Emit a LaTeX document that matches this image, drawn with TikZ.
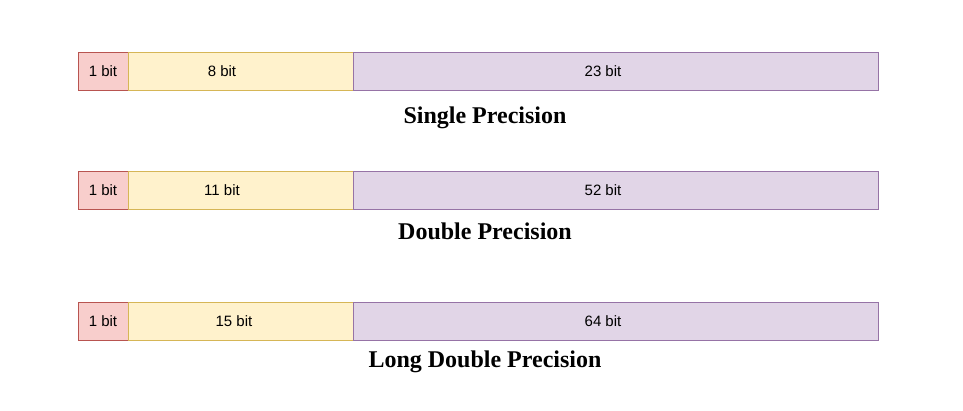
\documentclass[tikz,border=0pt]{standalone}
\usepackage{fontspec}
\setmainfont{Liberation Serif}
\newfontfamily\boxfont{Liberation Sans}
\definecolor{signfill}{HTML}{F8CECC}
\definecolor{signdraw}{HTML}{B85450}
\definecolor{expfill}{HTML}{FFF2CC}
\definecolor{expdraw}{HTML}{D6B656}
\definecolor{mantfill}{HTML}{E1D5E7}
\definecolor{mantdraw}{HTML}{9673A6}
\begin{document}
\begin{tikzpicture}[
        x                       = 1pt,
        y                       = -1pt,
        field/.style            = {rectangle, inner sep=0pt, minimum height=38pt, line width=1pt},
        signbox/.style          = {field, fill=signfill, draw=signdraw, minimum width=50pt},
        expbox/.style           = {field, fill=expfill, draw=expdraw, minimum width=225pt},
        mantbox/.style          = {field, fill=mantfill, draw=mantdraw, minimum width=525pt},
        bits/.style             = {font=\boxfont\fontsize{15pt}{17pt}\selectfont},
        title/.style            = {font=\bfseries\fontsize{24pt}{26pt}\selectfont},
      ]
        \useasboundingbox (0,0) rectangle (963,410);
        % single
        \node[signbox] (s1) at (103,71) {};
        \node[expbox]  (e1) at (240.5,71) {};
        \node[mantbox] (m1) at (615.5,71) {};
        \node[bits] at (s1) {1 bit};
        \node[bits] at (222,71) {8 bit};
        \node[bits] at (603,71) {23 bit};
        \node[title] (t1) at (485,118) {Single Precision};
        % double
        \node[signbox] (s2) at (103,190) {};
        \node[expbox]  (e2) at (240.5,190) {};
        \node[mantbox] (m2) at (615.5,190) {};
        \node[bits] at (s2) {1 bit};
        \node[bits] at (222,190) {11 bit};
        \node[bits] at (603,190) {52 bit};
        \node[title] (t2) at (485,231) {Double Precision};
        % long double
        \node[signbox] (s3) at (103,321) {};
        \node[expbox]  (e3) at (240.5,321) {};
        \node[mantbox] (m3) at (615.5,321) {};
        \node[bits] at (s3) {1 bit};
        \node[bits] at (234,321) {15 bit};
        \node[bits] at (603,321) {64 bit};
        \node[title] (t3) at (485,362) {Long Double Precision};
    \end{tikzpicture}
\end{document}
